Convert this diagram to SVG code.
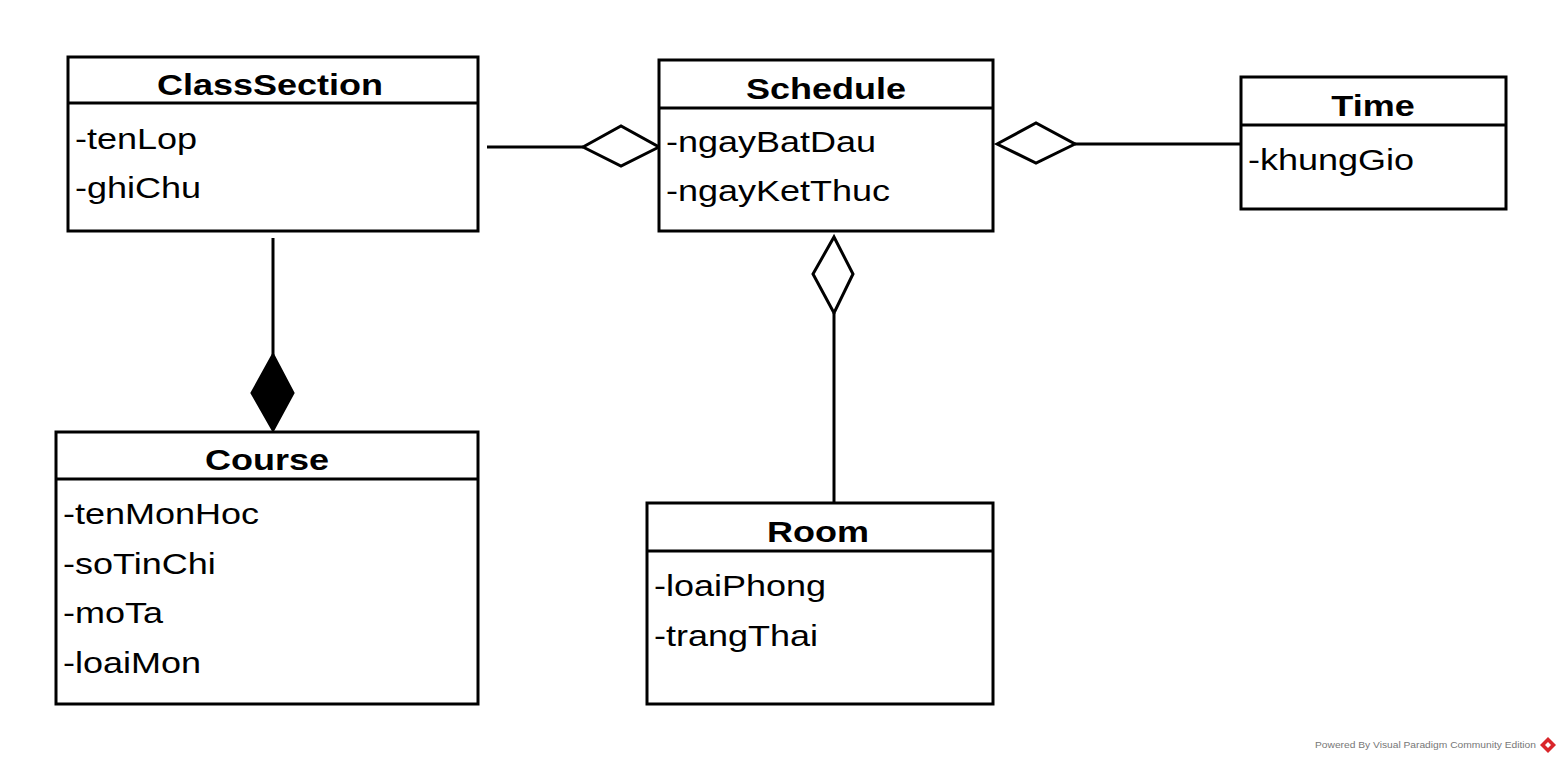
<svg xmlns="http://www.w3.org/2000/svg" width="1560" height="762" viewBox="0 0 1560 762">
<style>
.box{fill:#fff;stroke:#000;stroke-width:3}
.div{stroke:#000;stroke-width:3}
.t{font-family:"Liberation Sans",Arial,sans-serif;font-size:30px;font-weight:bold;text-anchor:middle;fill:#000}
.a{font-family:"Liberation Sans",Arial,sans-serif;font-size:30px;fill:#000}
.ln{stroke:#000;stroke-width:3;fill:none}
.od{fill:#fff;stroke:#000;stroke-width:3;stroke-linejoin:miter}
.fd{fill:#000;stroke:#000;stroke-width:3}
.ft{font-family:"Liberation Sans",Arial,sans-serif;font-size:9.5px;fill:#777}
</style>
<rect width="1560" height="762" fill="#fff"/>
<g id="connectors">
<line class="ln" x1="487" y1="147" x2="583" y2="147"/>
<polygon class="od" points="583,147 621,126 659,147 621,166"/>
<line class="ln" x1="1075" y1="144" x2="1241" y2="144"/>
<polygon class="od" points="997,144 1036,123 1075,144 1036,163"/>
<line class="ln" x1="834" y1="313" x2="834" y2="503"/>
<polygon class="od" points="834,237 853,274 834,313 813,274"/>
<line class="ln" x1="273" y1="238" x2="273" y2="355"/>
<polygon class="fd" points="273,355 293,393 273,430 252,393"/>
</g>
<g id="ClassSection">
<rect class="box" x="68" y="57" width="410" height="174"/>
<line class="div" x1="68" y1="103" x2="478" y2="103"/>
<text class="t" transform="translate(270,95) scale(1.2,1)">ClassSection</text>
<text class="a" transform="translate(75,149) scale(1.2,1)">-tenLop</text>
<text class="a" transform="translate(75,198) scale(1.2,1)">-ghiChu</text>
</g>
<g id="Schedule">
<rect class="box" x="659" y="60" width="334" height="171"/>
<line class="div" x1="659" y1="108" x2="993" y2="108"/>
<text class="t" transform="translate(826,99) scale(1.2,1)">Schedule</text>
<text class="a" transform="translate(666,152) scale(1.2,1)">-ngayBatDau</text>
<text class="a" transform="translate(666,201) scale(1.2,1)">-ngayKetThuc</text>
</g>
<g id="Time">
<rect class="box" x="1241" y="77" width="265" height="132"/>
<line class="div" x1="1241" y1="125" x2="1506" y2="125"/>
<text class="t" transform="translate(1373,116) scale(1.2,1)">Time</text>
<text class="a" transform="translate(1248,170) scale(1.2,1)">-khungGio</text>
</g>
<g id="Course">
<rect class="box" x="56" y="432" width="422" height="272"/>
<line class="div" x1="56" y1="479" x2="478" y2="479"/>
<text class="t" transform="translate(267,470) scale(1.2,1)">Course</text>
<text class="a" transform="translate(63,524) scale(1.2,1)">-tenMonHoc</text>
<text class="a" transform="translate(63,574) scale(1.2,1)">-soTinChi</text>
<text class="a" transform="translate(63,623) scale(1.2,1)">-moTa</text>
<text class="a" transform="translate(63,673) scale(1.2,1)">-loaiMon</text>
</g>
<g id="Room">
<rect class="box" x="647" y="503" width="346" height="201"/>
<line class="div" x1="647" y1="551" x2="993" y2="551"/>
<text class="t" transform="translate(818,542) scale(1.2,1)">Room</text>
<text class="a" transform="translate(654,596) scale(1.2,1)">-loaiPhong</text>
<text class="a" transform="translate(654,646) scale(1.2,1)">-trangThai</text>
</g>
<g id="footer">
<text class="ft" x="1315" y="748" textLength="221" lengthAdjust="spacingAndGlyphs">Powered By Visual Paradigm Community Edition</text>
<polygon points="1548,737 1556,745 1548,753 1540,745" fill="#d9262b"/>
<polygon points="1545,745 1548,742 1551,745 1548,748" fill="#fff"/>
</g>
</svg>
